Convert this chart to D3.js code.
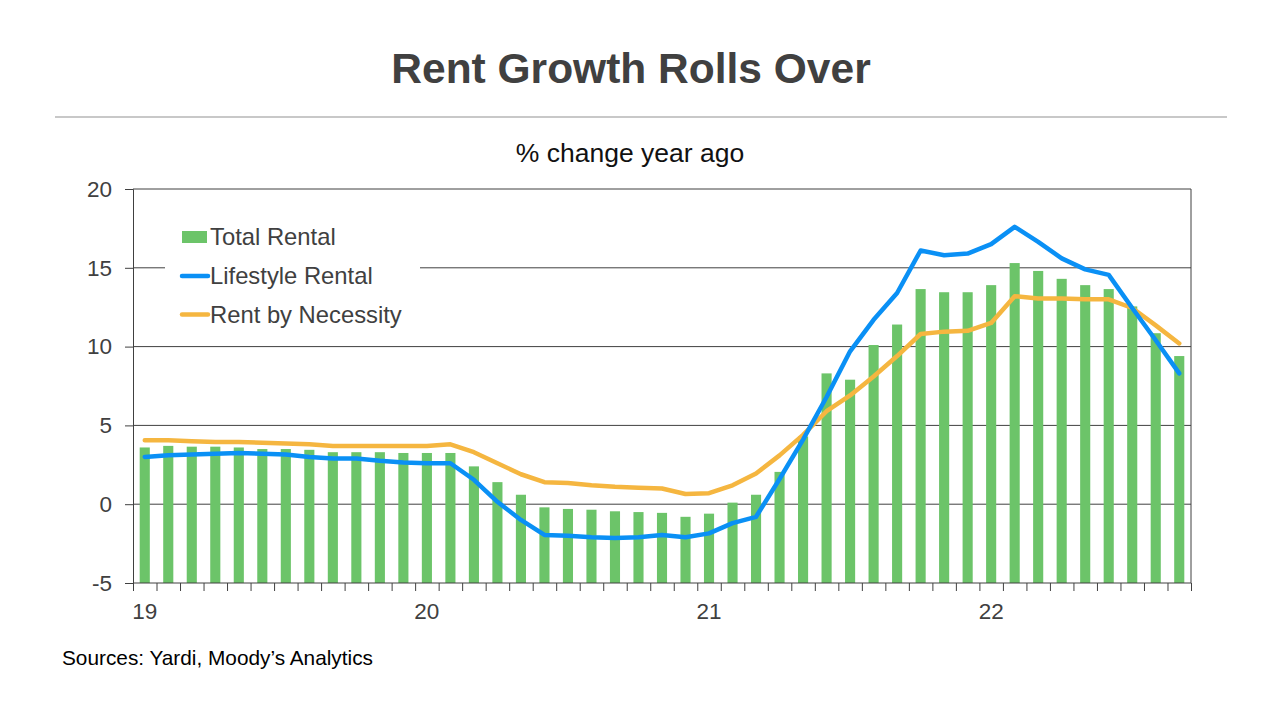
<!DOCTYPE html>
<html>
<head>
<meta charset="utf-8">
<script src="https://cdn.jsdelivr.net/npm/d3@7"></script>
<style>
  body { margin: 0; background: #fff; }
  text { font-family: "Liberation Sans", Arial, sans-serif; }
</style>
</head>
<body>
<div id="chart"></div>
<script>
// monthly, Jan 2019 .. Sep 2022
const years = ["19", "20", "21", "22"];
const months = d3.range(45);

const totalRental = [
  3.6, 3.7, 3.65, 3.65, 3.6, 3.5, 3.5, 3.45, 3.3, 3.3, 3.3, 3.25,
  3.25, 3.25, 2.4, 1.4, 0.6, -0.2, -0.3, -0.35, -0.45, -0.5, -0.55, -0.8,
  -0.6, 0.1, 0.6, 2.05, 4.3, 8.3, 7.9, 10.1, 11.4, 13.65, 13.45, 13.45,
  13.9, 15.3, 14.8, 14.3, 13.9, 13.65, 12.55, 10.85, 9.4
];
const lifestyle = [
  3.0, 3.1, 3.15, 3.2, 3.25, 3.2, 3.15, 3.0, 2.9, 2.9, 2.75, 2.65,
  2.6, 2.6, 1.55, 0.15, -1.0, -1.95, -2.0, -2.1, -2.15, -2.1, -1.95, -2.1,
  -1.85, -1.2, -0.8, 1.6, 4.1, 6.8, 9.7, 11.7, 13.4, 16.1, 15.8, 15.9,
  16.5, 17.6, 16.65, 15.6, 14.9, 14.55, 12.45, 10.4, 8.3
];
const necessity = [
  4.05, 4.05, 4.0, 3.95, 3.95, 3.9, 3.85, 3.8, 3.7, 3.7, 3.7, 3.7,
  3.7, 3.8, 3.3, 2.6, 1.9, 1.4, 1.35, 1.2, 1.1, 1.05, 1.0, 0.65,
  0.7, 1.2, 1.95, 3.1, 4.4, 5.9, 6.9, 8.1, 9.4, 10.8, 10.95, 11.0,
  11.5, 13.2, 13.05, 13.05, 13.0, 13.0, 12.45, 11.35, 10.2
];
const yTicks = [-5, 0, 5, 10, 15, 20];
const legendLabels = ["Total Rental", "Lifestyle Rental", "Rent by Necessity"];

const green = "#6cc469", blue = "#0a90f5", orange = "#f5b640", ink = "#404040";

const W = 1280, H = 720;
const plot = { left: 133, right: 1191, top: 189, bottom: 583 };

const svg = d3.select("#chart").append("svg")
    .attr("width", W)
    .attr("height", H);

// title block
svg.append("text")
    .attr("x", 631).attr("y", 83)
    .attr("text-anchor", "middle")
    .style("font-size", "42.5px").style("font-weight", "bold")
    .style("fill", ink)
    .text("Rent Growth Rolls Over");

svg.append("line")
    .attr("x1", 55).attr("x2", 1227)
    .attr("y1", 117).attr("y2", 117)
    .style("stroke", "#c8c8c8").style("stroke-width", 2);

svg.append("text")
    .attr("x", 630).attr("y", 162)
    .attr("text-anchor", "middle")
    .style("font-size", "26.5px")
    .style("fill", "#111")
    .text("% change year ago");

const x = d3.scaleBand().domain(months).range([plot.left, plot.right]);
const xi = d3.scaleLinear().domain([0, 45]).range([plot.left, plot.right]);
const y = d3.scaleLinear().domain([-5, 20]).range([plot.bottom, plot.top]);

// gridlines
svg.append("g")
  .selectAll("line")
  .data(yTicks.filter(d => d > -5))
  .join("line")
    .attr("x1", plot.left).attr("x2", plot.right)
    .attr("y1", d => y(d)).attr("y2", d => y(d))
    .style("stroke", ink).style("stroke-width", 1);

svg.append("line")
    .attr("x1", plot.right).attr("x2", plot.right)
    .attr("y1", plot.top).attr("y2", plot.bottom)
    .style("stroke", ink);

// bars (rise from the -5 floor)
const barW = x.bandwidth() * 0.43;
svg.append("g")
  .selectAll("rect")
  .data(totalRental)
  .join("rect")
    .attr("x", (d, i) => x(i) + (x.bandwidth() - barW) / 2)
    .attr("width", barW)
    .attr("y", d => y(d))
    .attr("height", d => y(-5) - y(d))
    .style("fill", green);

const line = d3.line()
    .x((d, i) => x(i) + x.bandwidth() / 2)
    .y(d => y(d));

[[necessity, orange], [lifestyle, blue]].forEach(([data, color]) => {
  svg.append("path")
      .datum(data)
      .attr("d", line)
      .style("fill", "none")
      .style("stroke", color)
      .style("stroke-width", 4.5)
      .style("stroke-linejoin", "round")
      .style("stroke-linecap", "round");
});

// axes
const yAxis = svg.append("g")
    .attr("transform", "translate(" + plot.left + ",0)")
    .call(d3.axisLeft(y).tickValues(yTicks).tickSize(8).tickPadding(13)
      .tickFormat(d => String(d)));
yAxis.select(".domain").style("stroke", ink);
yAxis.selectAll(".tick line").style("stroke", ink);
yAxis.selectAll("text")
    .style("font-size", "22.5px").style("fill", ink)
    .style("font-family", "'Liberation Sans', Arial, sans-serif");

const xAxis = svg.append("g")
    .attr("transform", "translate(0," + plot.bottom + ")")
    .call(d3.axisBottom(xi).tickValues(d3.range(46)).tickSize(8).tickFormat(""));
xAxis.select(".domain").attr("d", "M" + plot.left + ",0H" + plot.right).style("stroke", ink);
xAxis.selectAll(".tick line").style("stroke", ink);

svg.append("g")
  .selectAll("text")
  .data(years)
  .join("text")
    .attr("x", (d, i) => x(i * 12) + x.bandwidth() / 2)
    .attr("y", 619)
    .attr("text-anchor", "middle")
    .style("font-size", "22.5px").style("fill", ink)
    .text(d => d);

// legend
svg.append("rect")
    .attr("x", 165).attr("y", 222)
    .attr("width", 255).attr("height", 106)
    .style("fill", "#fff");

const lg = svg.append("g");
const rowY = [237, 276, 314.5];
legendLabels.forEach((label, i) => {
  if (i === 0) {
    lg.append("rect")
        .attr("x", 182).attr("y", rowY[i] - 6)
        .attr("width", 25).attr("height", 12)
        .style("fill", green);
  } else {
    lg.append("line")
        .attr("x1", 182).attr("x2", 208)
        .attr("y1", rowY[i]).attr("y2", rowY[i])
        .style("stroke", i === 1 ? blue : orange)
        .style("stroke-width", 4.5)
        .style("stroke-linecap", "round");
  }
  lg.append("text")
      .attr("x", 210).attr("y", rowY[i] + 8)
      .style("font-size", "23.8px").style("fill", ink)
      .text(label);
});

svg.append("text")
    .attr("x", 62).attr("y", 665)
    .style("font-size", "20.8px").style("fill", "#000")
    .text("Sources: Yardi, Moody\u2019s Analytics");
</script>
</body>
</html>
